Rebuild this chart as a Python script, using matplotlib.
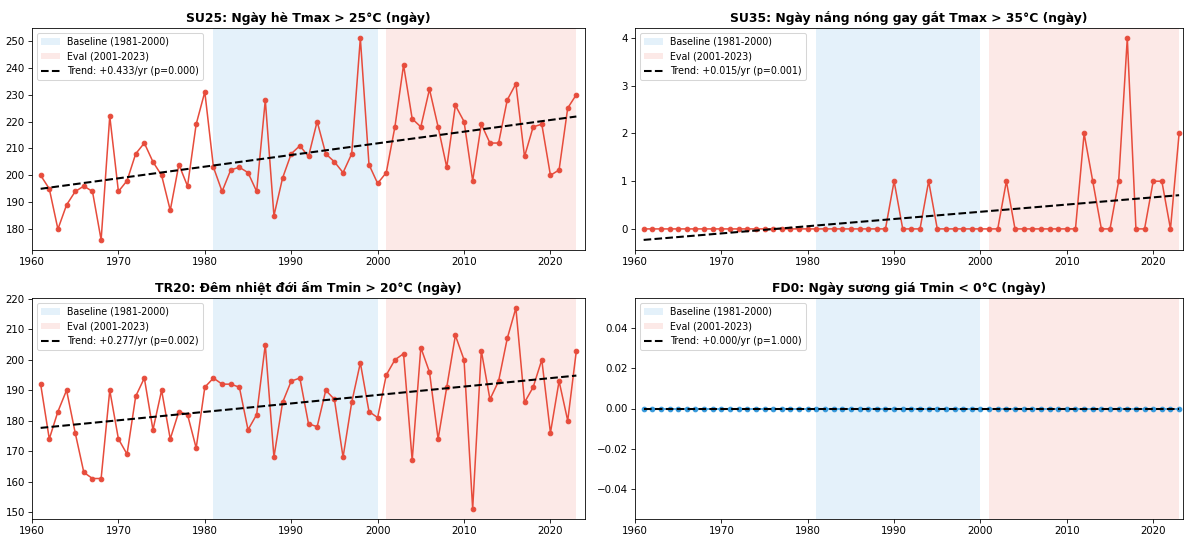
import numpy as np
import matplotlib
matplotlib.use("Agg")
import matplotlib.pyplot as plt

# years 1961-2023
years = np.arange(1961, 2024)

# SU25: days with Tmax > 25°C
su25 = [200, 195, 180, 189, 194, 196, 194, 176, 222, 194,
        198, 208, 212, 205, 200, 187, 204, 196, 219, 231,
        203, 194, 202, 203, 201, 194, 228, 185, 199, 208,
        211, 207, 220, 208, 205, 201, 208, 251, 204, 197,
        201, 218, 241, 221, 218, 232, 218, 203, 226, 220,
        198, 219, 212, 212, 228, 234, 207, 218, 219, 200,
        202, 225, 230]

# SU35: days with Tmax > 35°C
su35 = [0] * 29 + [1, 0, 0, 0, 1, 0, 0, 0, 0, 0, 0, 0, 0, 1,
                   0, 0, 0, 0, 0, 0, 0, 0, 2, 1, 0, 0, 1, 4, 0, 0,
                   1, 1, 0, 2]

# TR20: tropical nights Tmin > 20°C
tr20 = [192, 174, 183, 190, 176, 163, 161, 161, 190, 174,
        169, 188, 194, 177, 190, 174, 183, 182, 171, 191,
        194, 192, 192, 191, 177, 182, 205, 168, 186, 193,
        194, 179, 178, 190, 187, 168, 186, 199, 183, 181,
        195, 200, 202, 167, 204, 196, 174, 191, 208, 200,
        151, 203, 187, 193, 207, 217, 186, 191, 200, 176,
        193, 180, 203]

# FD0: frost days Tmin < 0°C
fd0 = [0] * 63

titles = ["SU25: Ngày hè Tmax > 25°C (ngày)",
          "SU35: Ngày nắng nóng gay gắt Tmax > 35°C (ngày)",
          "TR20: Đêm nhiệt đới ấm Tmin > 20°C (ngày)",
          "FD0: Ngày sương giá Tmin < 0°C (ngày)"]
trend_labels = ["Trend: +0.433/yr (p=0.000)",
                "Trend: +0.015/yr (p=0.001)",
                "Trend: +0.277/yr (p=0.002)",
                "Trend: +0.000/yr (p=1.000)"]
series = [su25, su35, tr20, fd0]
colors = ["#e74c3c", "#e74c3c", "#e74c3c", "#3498db"]

fig = plt.figure(figsize=(16, 539 / 74), dpi=74)

W, H = 1184, 539
boxes = [(32, 28, 585, 250), (635, 28, 1183, 250),
         (32, 298, 585, 519), (635, 298, 1183, 519)]

for i in range(4):
    x0, y0, x1, y1 = boxes[i]
    ax = fig.add_axes([x0 / W, 1 - y1 / H, (x1 - x0) / W, (y1 - y0) / H])
    y = np.array(series[i], dtype=float)

    ax.axvspan(1981, 2000, color="#3498db", alpha=0.13, lw=0, label="Baseline (1981-2000)")
    ax.axvspan(2001, 2023, color="#e74c3c", alpha=0.12, lw=0, label="Eval (2001-2023)")
    ax.plot(years, y, "-o", color=colors[i], lw=1.5, ms=4.5)

    m, c = np.polyfit(years, y, 1)
    ax.plot(years, m * years + c, "k--", lw=2, label=trend_labels[i])

    ax.set_title(titles[i], fontsize=12, fontweight="bold")
    ax.legend(loc="upper left", fontsize=9.3)
    if i % 2 == 0:
        ax.set_xlim(1960, 2024)
    else:
        ax.set_xlim(1960, 2023.45)

fig.savefig("out.png", dpi=74)
